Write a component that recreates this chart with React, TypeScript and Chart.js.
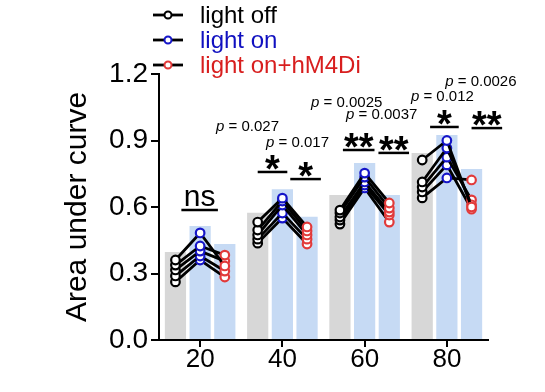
import React, { useEffect, useRef } from 'react';
import { Chart, registerables } from 'chart.js';

Chart.register(...registerables);

// ---------- data ----------
const categories = ['20', '40', '60', '80'];
const yTickValues = [0, 0.3, 0.6, 0.9, 1.2];
const seriesNames = ['light off', 'light on', 'light on+hM4Di'];

const meanLightOff = [0.397, 0.574, 0.654, 0.844];
const meanLightOn = [0.514, 0.68, 0.798, 0.925];
const meanHm4di = [0.433, 0.556, 0.654, 0.771];

// individual animals, per group (5 mice each)
const miceLightOff = [
  [0.361, 0.338, 0.316, 0.289, 0.262],
  [0.532, 0.496, 0.474, 0.455, 0.437],
  [0.586, 0.573, 0.555, 0.541, 0.523],
  [0.812, 0.713, 0.69, 0.668, 0.641],
];
const miceLightOn = [
  [0.483, 0.424, 0.401, 0.379, 0.361],
  [0.64, 0.627, 0.609, 0.573, 0.55],
  [0.753, 0.735, 0.713, 0.699, 0.686],
  [0.9, 0.866, 0.825, 0.79, 0.731],
];
const miceHm4di = [
  [0.334, 0.383, 0.356, 0.311, 0.284],
  [0.51, 0.492, 0.474, 0.455, 0.433],
  [0.618, 0.595, 0.577, 0.564, 0.532],
  [0.6, 0.61, 0.632, 0.59, 0.722],
];

// significance annotations
const sigGroup = [0, 1, 1, 2, 2, 3, 3];
const sigLabel = ['ns', '*', '*', '**', '**', '*', '**'];
const sigP = ['', '0.027', '0.017', '0.0025', '0.0037', '0.012', '0.0026'];
const sigLevel = [0.586, 0.758, 0.726, 0.857, 0.844, 0.961, 0.956];

// ---------- style / layout ----------
const FONT = "'Liberation Sans', Arial, sans-serif";
const SLOT = 0.3; // spacing between the three bars of a group, in category units
const COL_OFF = '#000000';
const COL_ON = '#1515c8';
const COL_HM = '#e23a3a';
const BAR_GRAY = '#d7d7d7';
const BAR_BLUE = '#c6daf4';
const TEXT_COLORS = ['#000000', '#1010c0', '#d81e1e'];
// bracket extents in bar-slot units relative to group centre; p-text offsets in px
const sigLayout = [
  { from: -0.76, to: 0.72, pdx: 0, pdy: 0 },
  { from: -1.0, to: 0.2, pdx: -25, pdy: -45 },
  { from: 0.32, to: 1.56, pdx: -8, pdy: -36 },
  { from: -0.88, to: 0.4, pdx: -12, pdy: -47 },
  { from: 0.56, to: 1.8, pdx: -12, pdy: -38 },
  { from: -0.68, to: 0.48, pdx: -2, pdy: -30 },
  { from: 1.0, to: 2.24, pdx: -6, pdy: -46 },
];

const annotationPlugin = {
  id: 'annot',
  afterDraw(chart: any) {
    const ctx = chart.ctx;
    const xs = chart.scales.x;
    const ys = chart.scales.y;
    ctx.save();
    sigGroup.forEach((g, i) => {
      const L = sigLayout[i];
      const x1 = xs.getPixelForValue(g + L.from * SLOT);
      const x2 = xs.getPixelForValue(g + L.to * SLOT);
      const yl = ys.getPixelForValue(sigLevel[i]);
      const cx = (x1 + x2) / 2;
      ctx.strokeStyle = '#000';
      ctx.lineWidth = 2.5;
      ctx.beginPath();
      ctx.moveTo(x1, yl);
      ctx.lineTo(x2, yl);
      ctx.stroke();
      ctx.fillStyle = '#000';
      ctx.textAlign = 'center';
      ctx.textBaseline = 'alphabetic';
      if (sigLabel[i] === 'ns') {
        ctx.font = `30px ${FONT}`;
        ctx.fillText('ns', cx, yl - 4);
      } else {
        ctx.font = `bold 38px ${FONT}`;
        ctx.fillText(sigLabel[i], cx, yl + 10);
      }
      if (sigP[i]) {
        const rest = ' = ' + sigP[i];
        ctx.font = `italic 15px ${FONT}`;
        const wp = ctx.measureText('p').width;
        ctx.font = `15px ${FONT}`;
        const wr = ctx.measureText(rest).width;
        const px = cx + L.pdx - (wp + wr) / 2;
        const py = yl + L.pdy;
        ctx.textAlign = 'left';
        ctx.textBaseline = 'middle';
        ctx.font = `italic 15px ${FONT}`;
        ctx.fillText('p', px, py);
        ctx.font = `15px ${FONT}`;
        ctx.fillText(rest, px + wp, py);
      }
    });
    // legend
    const rowsY = [15, 40, 65];
    const markerCols = [COL_OFF, COL_ON, COL_HM];
    seriesNames.forEach((name, i) => {
      const y = rowsY[i];
      ctx.strokeStyle = '#000';
      ctx.lineWidth = 2.8;
      ctx.beginPath();
      ctx.moveTo(153, y);
      ctx.lineTo(183, y);
      ctx.stroke();
      ctx.beginPath();
      ctx.arc(168, y, 3.5, 0, Math.PI * 2);
      ctx.fillStyle = '#fff';
      ctx.fill();
      ctx.strokeStyle = markerCols[i];
      ctx.lineWidth = 2;
      ctx.stroke();
      ctx.fillStyle = TEXT_COLORS[i];
      ctx.font = `24px ${FONT}`;
      ctx.textAlign = 'left';
      ctx.textBaseline = 'middle';
      ctx.fillText(name, 200, y + 1);
    });
    ctx.restore();
  },
};

export default function App() {
  const ref = useRef<HTMLCanvasElement | null>(null);
  useEffect(() => {
    if (!ref.current) return;
    const mouseSets: any[] = [];
    categories.forEach((_, g) => {
      miceLightOff[g].forEach((v, m) => {
        mouseSets.push({
          type: 'line',
          order: 0,
          data: [
            { x: g - SLOT, y: v },
            { x: g, y: miceLightOn[g][m] },
            { x: g + SLOT, y: miceHm4di[g][m] },
          ],
          borderColor: '#000',
          borderWidth: 2.8,
          pointRadius: 4.3,
          pointBorderWidth: 2.2,
          pointBackgroundColor: '#ffffff',
          pointBorderColor: [COL_OFF, COL_ON, COL_HM],
          fill: false,
          tension: 0,
        });
      });
    });
    const barSet = (label: string, means: number[], shift: number, color: string) => ({
      type: 'bar',
      order: 1,
      label,
      data: means.map((v, g) => ({ x: g + shift * SLOT, y: v })),
      backgroundColor: color,
      borderWidth: 0,
      grouped: false,
      categoryPercentage: 1,
      barPercentage: 0.86,
    });
    const chart = new Chart(ref.current, {
      type: 'bar',
      data: {
        datasets: [
          barSet(seriesNames[0], meanLightOff, -1, BAR_GRAY),
          barSet(seriesNames[1], meanLightOn, 0, BAR_BLUE),
          barSet(seriesNames[2], meanHm4di, 1, BAR_BLUE),
          ...mouseSets,
        ] as any,
      },
      options: {
        animation: false,
        responsive: false,
        layout: { padding: { left: 56, right: 57, top: 74, bottom: 0 } },
        plugins: { legend: { display: false }, tooltip: { enabled: false }, title: { display: false } },
        scales: {
          x: {
            type: 'linear',
            min: -0.5,
            max: 3.5,
            offset: false,
            afterBuildTicks: (s: any) => { s.ticks = categories.map((_, i) => ({ value: i })); },
            grid: { offset: false, drawOnChartArea: false, drawTicks: true, tickLength: 7, color: '#000', lineWidth: 2 },
            border: { display: true, color: '#000', width: 2 },
            ticks: {
              color: '#000',
              padding: 0,
              font: { size: 26, family: FONT, lineHeight: 1 },
              callback: (v: any) => categories[Math.round(Number(v))] ?? '',
            },
            afterFit: (s: any) => { s.height = 52; },
          },
          y: {
            min: 0,
            max: 1.2,
            afterBuildTicks: (s: any) => { s.ticks = yTickValues.map((v) => ({ value: v })); },
            ticks: {
              color: '#000',
              padding: 3,
              font: { size: 28, family: FONT },
              callback: (v: any) => Number(v).toFixed(1),
            },
            grid: { drawOnChartArea: false, drawTicks: true, tickLength: 8, color: '#000', lineWidth: 2 },
            border: { display: true, color: '#000', width: 2 },
            title: {
              display: true,
              text: 'Area under curve',
              color: '#000',
              font: { size: 30, family: FONT },
              padding: { top: 4, bottom: 0 },
            },
            afterFit: (s: any) => { s.width = 103; },
          },
        },
      } as any,
      plugins: [annotationPlugin],
    });
    return () => chart.destroy();
  }, []);
  return (
    <div style={{ position: 'fixed', left: 0, top: 0, width: 545, height: 392, background: '#fff' }}>
      <canvas ref={ref} width={545} height={392} style={{ display: 'block' }} />
    </div>
  );
}
